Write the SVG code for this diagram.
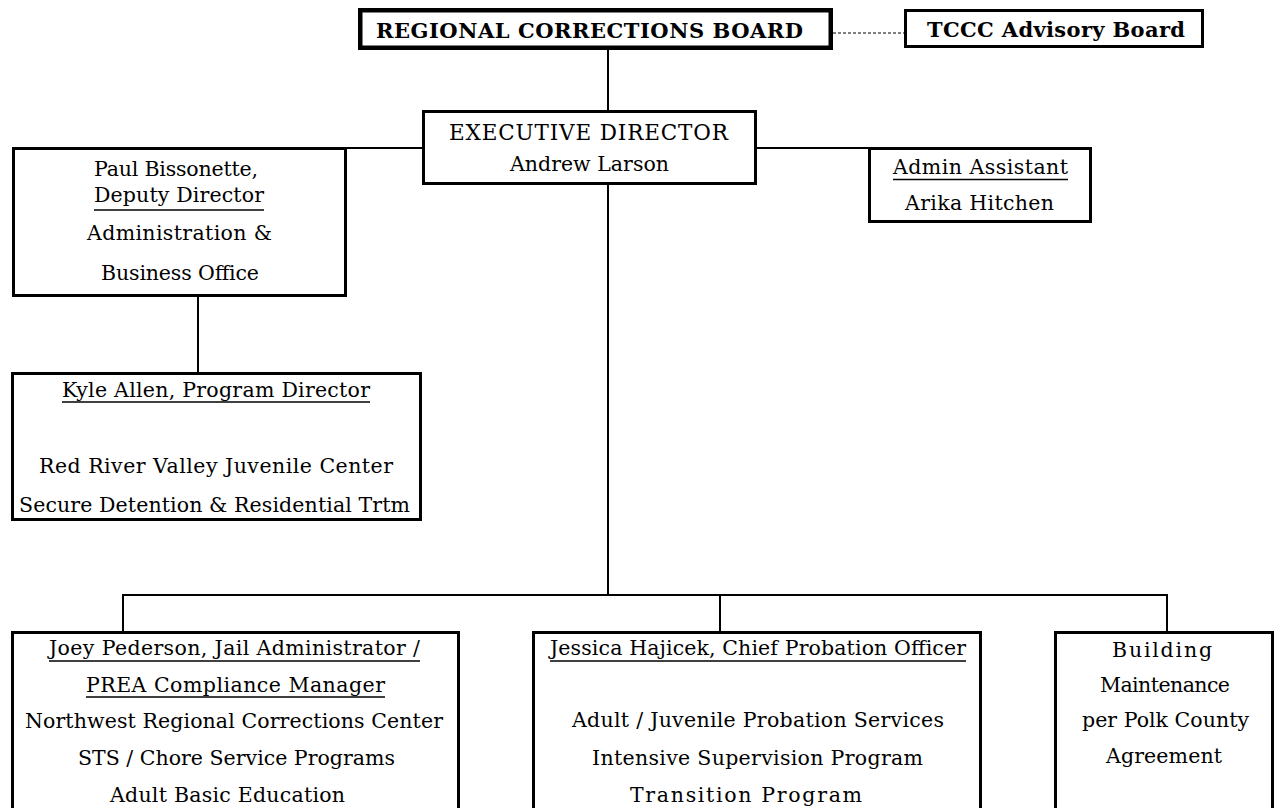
<svg xmlns="http://www.w3.org/2000/svg" width="1275" height="808" viewBox="0 0 1275 808">
<style>
.box{fill:#fff;stroke:#000;stroke-width:3}
.thick{stroke-width:4.5}
.t{font-family:"DejaVu Serif","Liberation Serif",serif;font-size:20.5px;fill:#000;text-anchor:middle}
.b{font-weight:bold;font-size:21px}
.cap{font-size:21.5px}
.ul{stroke:#000;stroke-width:1.3}
.c{stroke:#000;stroke-width:2;fill:none}
.d{stroke:#000;stroke-width:1;stroke-dasharray:3 2;fill:none}
</style>
<rect width="1275" height="808" fill="#fff"/>
<g id="connectors">
<line class="c" x1="608" y1="50" x2="608" y2="111"/>
<line class="d" x1="833" y1="33" x2="904" y2="33"/>
<line class="c" x1="346" y1="148" x2="423" y2="148"/>
<line class="c" x1="756" y1="148" x2="869" y2="148"/>
<line class="c" x1="608" y1="184" x2="608" y2="595"/>
<line class="c" x1="198" y1="296" x2="198" y2="373"/>
<line class="c" x1="123" y1="595" x2="1168" y2="595"/>
<line class="c" x1="123" y1="594" x2="123" y2="632"/>
<line class="c" x1="720" y1="594" x2="720" y2="632"/>
<line class="c" x1="1167" y1="594" x2="1167" y2="632"/>
</g>
<g id="rcb">
<rect class="box thick" x="360.25" y="10.25" width="470.5" height="37.5"/>
<text class="t b" x="589.5" y="38" textLength="427">REGIONAL CORRECTIONS BOARD</text>
</g>
<g id="tccc">
<rect class="box" x="905.5" y="10.5" width="297" height="36"/>
<text class="t b" x="1056" y="37" textLength="258">TCCC Advisory Board</text>
</g>
<g id="exec">
<rect class="box" x="423.5" y="111.5" width="332" height="72"/>
<text class="t cap" x="588.5" y="140" textLength="279">EXECUTIVE DIRECTOR</text>
<text class="t" x="589.5" y="171" textLength="159">Andrew Larson</text>
</g>
<g id="paul">
<rect class="box" x="13.5" y="148.5" width="332" height="147"/>
<text class="t" x="176" y="176" textLength="164">Paul Bissonette,</text>
<text class="t" x="179" y="202" textLength="170">Deputy Director</text>
<line class="ul" x1="94" y1="210" x2="264" y2="210"/>
<text class="t" x="179.5" y="240" textLength="185">Administration &amp;</text>
<text class="t" x="180" y="280" textLength="158">Business Office</text>
</g>
<g id="admin">
<rect class="box" x="869.5" y="148.5" width="221" height="73"/>
<text class="t" x="980.5" y="174" textLength="175">Admin Assistant</text>
<line class="ul" x1="893" y1="179.5" x2="1068" y2="179.5"/>
<text class="t" x="979.5" y="210" textLength="149">Arika Hitchen</text>
</g>
<g id="kyle">
<rect class="box" x="12.5" y="373.5" width="408" height="146"/>
<text class="t" x="216" y="397" textLength="308">Kyle Allen, Program Director</text>
<line class="ul" x1="62" y1="402" x2="370" y2="402"/>
<text class="t" x="216" y="473" textLength="354">Red River Valley Juvenile Center</text>
<text class="t" x="214.5" y="512" textLength="391">Secure Detention &amp; Residential Trtm</text>
</g>
<g id="joey">
<rect class="box" x="12.5" y="632.5" width="446" height="200"/>
<text class="t" x="234.5" y="655" textLength="371">Joey Pederson, Jail Administrator /</text>
<line class="ul" x1="49" y1="661" x2="420" y2="661"/>
<text class="t" x="235.5" y="692" textLength="299">PREA Compliance Manager</text>
<line class="ul" x1="86" y1="697" x2="385" y2="697"/>
<text class="t" x="234" y="728" textLength="418">Northwest Regional Corrections Center</text>
<text class="t" x="236.5" y="765" textLength="317">STS / Chore Service Programs</text>
<text class="t" x="227.5" y="802" textLength="235">Adult Basic Education</text>
</g>
<g id="jessica">
<rect class="box" x="533.5" y="632.5" width="447" height="200"/>
<text class="t" x="758" y="655" textLength="416">Jessica Hajicek, Chief Probation Officer</text>
<line class="ul" x1="550" y1="661" x2="966" y2="661"/>
<text class="t" x="758" y="727" textLength="372">Adult / Juvenile Probation Services</text>
<text class="t" x="757.5" y="765" textLength="331">Intensive Supervision Program</text>
<text class="t" x="746" y="802" textLength="232">Transition Program</text>
</g>
<g id="building">
<rect class="box" x="1055.5" y="632.5" width="217" height="200"/>
<text class="t" x="1162" y="657" textLength="100">Building</text>
<text class="t" x="1165" y="692" textLength="130">Maintenance</text>
<text class="t" x="1165.5" y="727" textLength="167">per Polk County</text>
<text class="t" x="1164" y="763" textLength="116">Agreement</text>
</g>
</svg>
